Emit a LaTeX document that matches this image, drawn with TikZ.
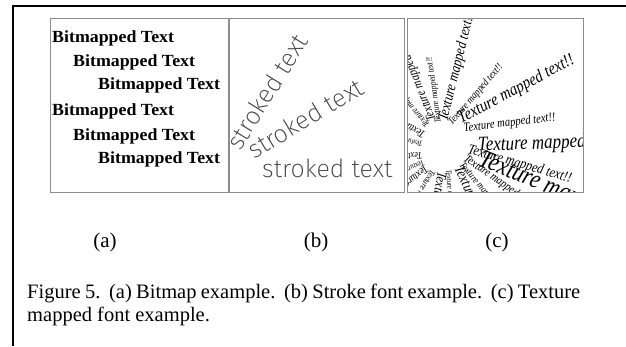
\documentclass[tikz,border=0pt]{standalone}
\usepackage{fontspec}
\setmainfont{Liberation Serif}
\newfontfamily\strokefont{Fira Sans ExtraLight}
\begin{document}
\begin{tikzpicture}[x=1pt,y=-1pt]
\useasboundingbox (0,0) rectangle (626,346);
\tikzset{
  frameline/.style={line width=2.8pt, black},
  panel/.style={draw=black!45, line width=0.9pt},
  bmp/.style={anchor=base west, inner sep=0pt, xscale=1.05, font=\bfseries\fontsize{17}{18}\selectfont},
  stk/.style={anchor=base west, inner sep=0pt, text=black!75, font=\strokefont\fontsize{25}{26}\selectfont},
  tex/.style={anchor=base west, inner sep=0pt, xscale=0.85},
  lbl/.style={anchor=base, inner sep=0pt, font=\fontsize{21}{24}\selectfont},
  captext/.style={anchor=base west, inner sep=0pt, font=\fontsize{20.5}{24}\selectfont},
}
% outer frame
\coordinate (ftr) at (626,6);
\coordinate (ftl) at (13,6);
\coordinate (fbl) at (13,346);
\draw[frameline] (ftr) -- (ftl) -- (fbl);

% panel (a)
\node[bmp] (b1) at (52,42) {Bitmapped Text};
\node[bmp] (b2) at (73,66) {Bitmapped Text};
\node[bmp] (b3) at (98,89) {Bitmapped Text};
\node[bmp] (b4) at (52,115) {Bitmapped Text};
\node[bmp] (b5) at (73,140) {Bitmapped Text};
\node[bmp] (b6) at (98,163) {Bitmapped Text};
\draw[panel] (50,18) rectangle (228,192);

% panel (b)
\node[stk] (s1) at (262,177) {stroked text};
\node[stk, rotate=31] (s2) at (254,160) {stroked text};
\node[stk, rotate=58] (s3) at (240,152) {stroked text};
\draw[panel] (229,18) rectangle (404,192);

% panel (c)
\begin{scope}
\clip (407,18) rectangle (583,192);
\foreach \x/\y/\a/\s [count=\i] in {
  447/122/76/15, 441/123/98/9, 452/126/49/10.5, 461/124/28/17.5,
  464/132/7/12.5, 478/151/2/20, 467/153/-16/14.5, 477/165/-22/26,
  463/160/-35/12, 459/165/-50/10, 454/168/-65/15, 446/170/-85/8,
  438/171/-100/14, 431/169/-120/9, 425/165/-140/11,
  436/120/112/13, 430/125/130/9, 426/133/150/11, 423/142/168/8,
  422/152/185/10, 423/160/205/8}
  \node[rotate=\a, tex, font=\itshape\fontsize{\s}{\s}\selectfont] (t\i) at (\x,\y) {Texture mapped text!!};
\end{scope}
\draw[panel] (407,18) rectangle (583,192);

% labels
\node[lbl] (la) at (105,247) {(a)};
\node[lbl] (lb) at (316,247) {(b)};
\node[lbl] (lc) at (497,247) {(c)};

% caption
\node[captext] (c1) at (27,298) {\makebox[553pt][s]{Figure 5.\ \ (a) Bitmap example.\ \ (b) Stroke font example.\ \ (c) Texture}};
\node[captext] (c2) at (27,321) {mapped font example.};
\end{tikzpicture}
\end{document}
